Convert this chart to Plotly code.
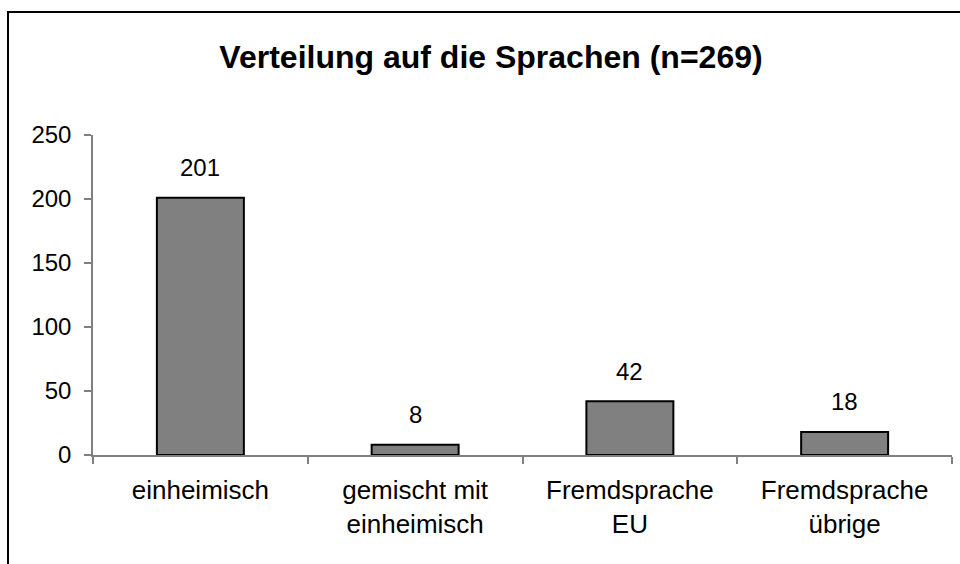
import plotly.graph_objects as go

# Daten aus dem Diagramm
categories = ["einheimisch", "gemischt mit<br>einheimisch", "Fremdsprache<br>EU", "Fremdsprache<br>übrige"]
counts = [201, 8, 42, 18]
y_ticks = [0, 50, 100, 150, 200, 250]

font_family = "Liberation Sans, Arial, sans-serif"

W, H = 960, 564

fig = go.Figure()

fig.add_trace(go.Bar(
    x=categories,
    y=counts,
    marker=dict(color="#808080", line=dict(color="black", width=2)),
    showlegend=False,
))

# value labels above the bars
for cat, val in zip(categories, counts):
    fig.add_annotation(
        x=cat, y=val, text=str(val), showarrow=False,
        yanchor="middle", yshift=30,
        font=dict(family=font_family, size=24, color="black"),
    )

# outer chart frame (right and bottom edge lie outside the picture)
fig.add_shape(
    type="rect", xref="paper", yref="paper",
    x0=(8 - 93) / 859, x1=1.2, y0=-0.6, y1=(455 - 12) / 320,
    line=dict(color="black", width=2), fillcolor="rgba(0,0,0,0)",
    layer="below",
)

fig.update_layout(
    width=W, height=H,
    margin=dict(l=93, r=8, t=135, b=109),
    paper_bgcolor="white",
    plot_bgcolor="white",
    bargap=0.595,
    font=dict(family=font_family, size=24, color="black"),
    title=dict(
        text="<b>Verteilung auf die Sprachen (n=269)</b>",
        x=491 / W, xref="container", xanchor="center",
        y=1 - 57 / H, yref="container", yanchor="middle",
        font=dict(family=font_family, size=32, color="black"),
    ),
)

fig.update_xaxes(
    type="category",
    showline=True, linecolor="#808080", linewidth=1.5,
    ticks="outside", tickson="boundaries", ticklen=7, tickcolor="#808080", tickwidth=1.5,
    showgrid=False, zeroline=False,
    tickfont=dict(family=font_family, size=26, color="black"),
    ticklabelstandoff=11,
)
fig.update_yaxes(
    range=[0, 250],
    tickvals=y_ticks,
    showline=True, linecolor="#808080", linewidth=1.5,
    ticks="outside", ticklen=7, tickcolor="#808080", tickwidth=1.5,
    showgrid=False, zeroline=False,
    tickfont=dict(family=font_family, size=24, color="black"),
    ticklabelstandoff=8,
)

# no body margin, so the figure fills the window exactly
fig.write_html(
    "out.html",
    config={"displayModeBar": False},
    post_script="document.body.style.margin='0';document.body.style.overflow='hidden';",
)
